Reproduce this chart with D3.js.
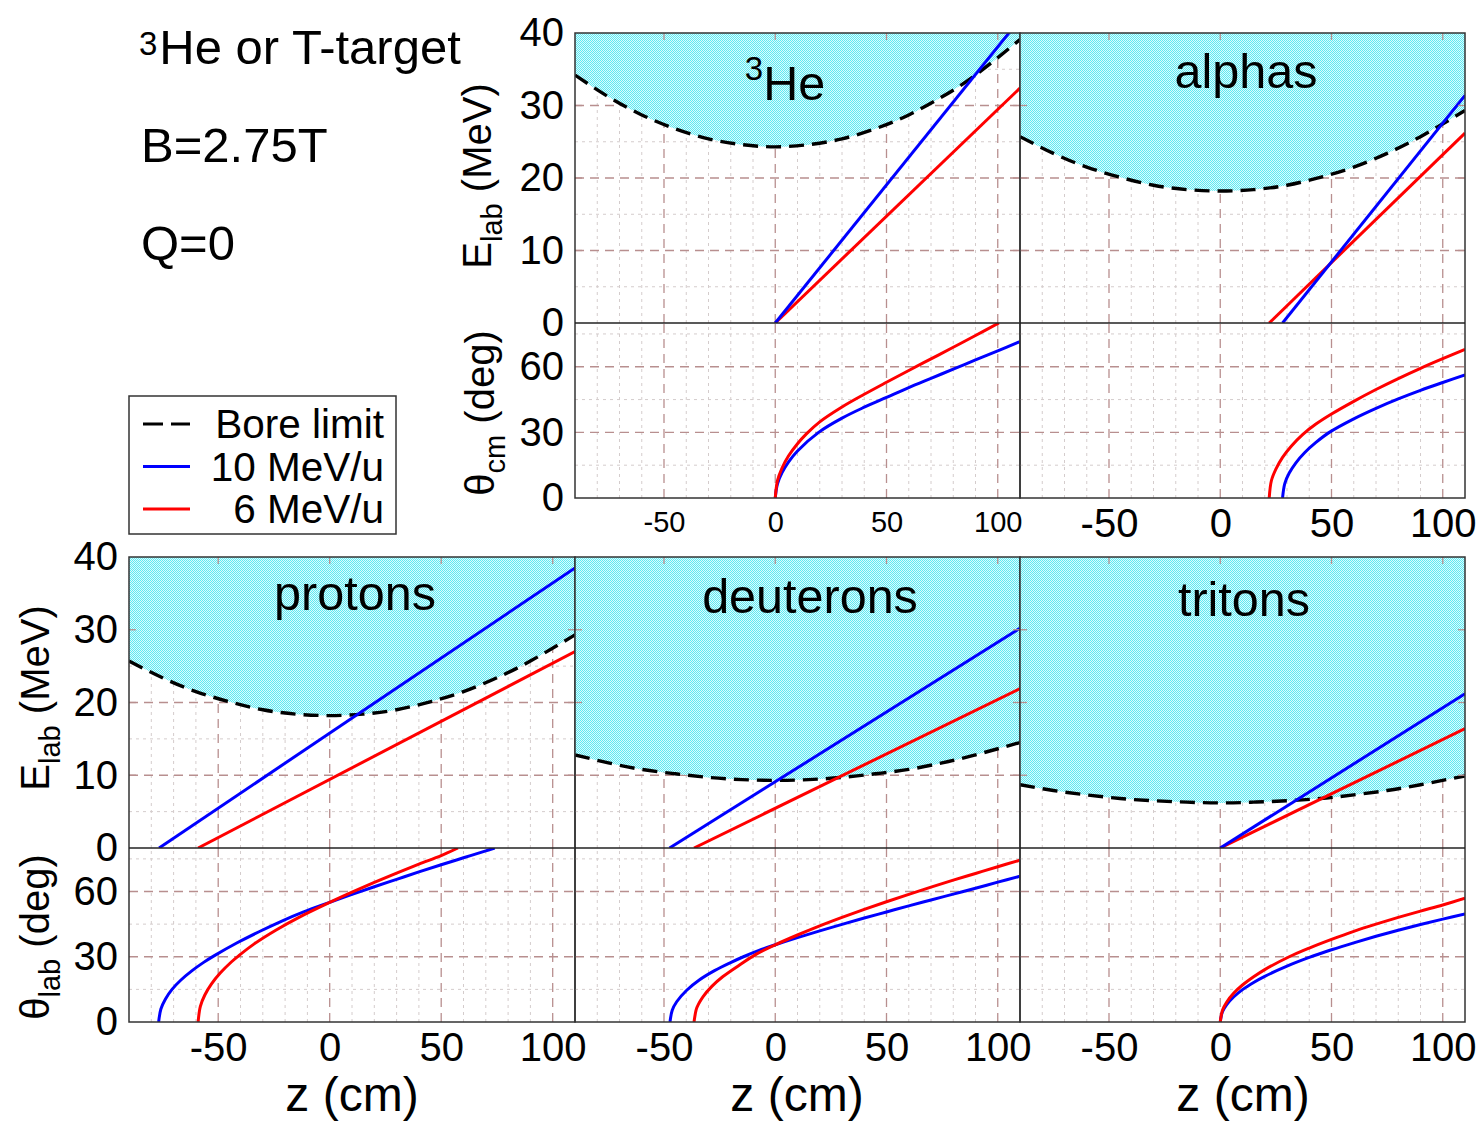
<!DOCTYPE html>
<html lang="en">
<head>
<meta charset="UTF-8">
<title>Bore limit kinematics</title>
<style>
    body { margin: 0; background: #fff; }
    text { font-family: 'Liberation Sans', Arial, sans-serif; fill: #000; }
</style>
</head>
<body>
<script src="https://d3js.org/d3.v7.min.js"></script>
<script>
    // tick labels
    let zTicks = [-50, 0, 50, 100];
    let eTicks = [0, 10, 20, 30, 40];
    let thTicks = [0, 30, 60];
    let zMinor = [-80, -70, -60, -40, -30, -20, -10, 10, 20, 30, 40, 60, 70, 80, 90];
    let eMajor = [10, 20, 30];
    let eMinor = [5, 15, 25, 35];
    let thMajor = [30, 60];
    let thMinor = [15, 45, 75];

    // bore limit, E (MeV) at zBore (cm)
    let zBore = [-90, -75, -60, -45, -30, -15, 0, 15, 30, 45, 60, 75, 90, 110];
    let boreHe3 = [34.2, 31.2, 28.7, 26.8, 25.4, 24.6, 24.3, 24.6, 25.4, 26.8, 28.7, 31.2, 34.2, 39.1];
    let boreAlpha = [25.7, 23.4, 21.5, 20.1, 19.0, 18.4, 18.2, 18.4, 19.0, 20.1, 21.5, 23.4, 25.7, 29.3];
    let boreP = [25.7, 23.4, 21.5, 20.1, 19.0, 18.4, 18.2, 18.4, 19.0, 20.1, 21.5, 23.4, 25.7, 29.3];
    let boreD = [12.8, 11.7, 10.8, 10.2, 9.7, 9.4, 9.3, 9.4, 9.7, 10.2, 10.8, 11.7, 12.8, 14.5];
    let boreT = [8.7, 7.9, 7.3, 6.8, 6.5, 6.3, 6.2, 6.3, 6.5, 6.8, 7.3, 7.9, 8.7, 9.9];

    // E_lab vs z, [z, E]
    let he3E10 = [[0, 0], [110, 41.9]];
    let he3E6 = [[0, 0], [110, 32.4]];
    let alphaE10 = [[28, 0], [110, 31.4]];
    let alphaE6 = [[22, 0], [110, 26.2]];
    let pE10 = [[-76.5, 0], [110, 38.5]];
    let pE6 = [[-59, 0], [110, 27.0]];
    let dE10 = [[-47.5, 0], [110, 30.2]];
    let dE6 = [[-36.5, 0], [110, 21.9]];
    let tE10 = [[0, 0], [110, 21.2]];
    let tE6 = [[0, 0], [110, 16.4]];

    // theta vs z, [z, deg]
    let he3Th10 = [[0, 0], [1, 6.5], [3, 11.5], [6, 16.5], [10, 21.5], [19.5, 30], [30, 36.5], [40, 41.5], [50, 46], [60, 50.5], [70, 54.7], [80, 58.9], [90, 63.1], [100, 67.3], [110, 71.5]];
    let he3Th6 = [[0, 0], [1, 7.9], [3, 13.6], [6, 19.3], [10, 24.8], [14, 29.3], [20, 34.8], [30, 41.6], [40, 47.4], [50, 52.9], [60, 58.3], [70, 63.6], [80, 68.9], [90, 74.3], [100.5, 80]];
    let alphaTh10 = [[28, 0], [29, 6.6], [31, 11.4], [34, 16.1], [38, 20.8], [43, 25.4], [49, 30], [60, 36.2], [70, 41], [80, 45.3], [90, 49.2], [100, 52.8], [110, 56.3]];
    let alphaTh6 = [[22, 0], [23, 8], [25, 13.2], [28, 18.6], [32, 23.8], [37, 29], [43, 33.8], [50, 38.4], [60, 44.2], [70, 49.6], [80, 54.6], [90, 59.3], [100, 63.7], [110, 67.9]];
    let pTh10 = [[-76.7, 0], [-75.7, 6], [-73.7, 10.5], [-70.7, 15], [-66.7, 19.3], [-61.7, 23.6], [-56.7, 27.3], [-51.7, 30.5], [-41.7, 36.3], [-31.7, 41.5], [-21.7, 46.3], [-11.7, 50.6], [0, 55], [10, 58.7], [20, 62.2], [30, 65.6], [40, 69], [50, 72.3], [60, 75.5], [70, 78.7], [74, 80]];
    let pTh6 = [[-59, 0], [-58, 7.2], [-56, 12.4], [-53, 17.5], [-49, 22.6], [-44, 27.7], [-40.5, 30.7], [-34, 35.8], [-24, 42.3], [-14, 48], [0, 55], [10, 59.7], [20, 64.2], [30, 68.5], [40, 72.6], [50, 76.5], [57.5, 80]];
    let dTh10 = [[-47.3, 0], [-46.3, 5.4], [-44.3, 9.3], [-39.8, 14.6], [-34.3, 19.2], [-27.3, 23.6], [-20.3, 27.2], [-14.3, 30], [-7.3, 32.9], [0, 35.5], [10, 38.8], [20, 41.9], [30, 44.9], [40, 47.8], [50, 50.6], [60, 53.4], [70, 56.1], [80, 58.8], [90, 61.5], [100, 64.3], [110, 67]];
    let dTh6 = [[-36.5, 0], [-35.5, 5.8], [-34.5, 8.2], [-32.5, 11.6], [-28.5, 16.4], [-23.5, 20.9], [-16.5, 25.9], [-8.5, 31.2], [0, 35.5], [10, 40], [20, 44.2], [30, 48.1], [40, 51.8], [50, 55.3], [60, 58.7], [70, 62], [80, 65.2], [90, 68.3], [100, 71.4], [110, 74.4]];
    let tTh10 = [[0, 0], [1, 4.7], [3, 8.1], [6, 11.5], [10, 14.9], [15, 18.2], [20, 21], [30, 25.7], [40, 29.7], [50, 33.2], [60, 36.4], [70, 39.4], [80, 42.2], [90, 44.8], [100, 47.3], [110, 49.7]];
    let tTh6 = [[0, 0], [1, 5.4], [3, 9.3], [6, 13.2], [10, 17], [15, 20.8], [20, 24.1], [31, 30], [40, 34], [50, 38], [60, 41.7], [70, 45], [80, 48.1], [90, 51], [100, 53.8], [110, 56.9]];

    let panels = [
        {name: 'He', col: 1, row: 0, bore: boreHe3, e10: he3E10, e6: he3E6, t10: he3Th10, t6: he3Th6, yAxis: true, smallX: true},
        {name: 'alphas', col: 2, row: 0, bore: boreAlpha, e10: alphaE10, e6: alphaE6, t10: alphaTh10, t6: alphaTh6},
        {name: 'protons', col: 0, row: 1, bore: boreP, e10: pE10, e6: pE6, t10: pTh10, t6: pTh6, yAxis: true},
        {name: 'deuterons', col: 1, row: 1, bore: boreD, e10: dE10, e6: dE6, t10: dTh10, t6: dTh6},
        {name: 'tritons', col: 2, row: 1, bore: boreT, e10: tE10, e6: tE6, t10: tTh10, t6: tTh6}
    ];

    let cols = [129, 575, 1020, 1465];
    let rows = [{top: 33, mid: 323, bot: 498}, {top: 557, mid: 848, bot: 1022}];
    let blue = '#0000ff', red = '#ff0000';
    let majorColor = '#b88f8f', minorColor = '#d4cccc';
    let font = "'Liberation Sans', Arial, sans-serif";

    let svg = d3.select('body').append('svg')
        .attr('width', 1481)
        .attr('height', 1122);

    let defs = svg.append('defs');
    let pat = defs.append('pattern').attr('id', 'stipple')
        .attr('width', 2).attr('height', 2).attr('patternUnits', 'userSpaceOnUse');
    pat.append('rect').attr('width', 2).attr('height', 2).attr('fill', '#dcfbfd');
    pat.append('rect').attr('width', 1).attr('height', 1).attr('fill', '#5ee9f2');
    pat.append('rect').attr('x', 1).attr('y', 1).attr('width', 1).attr('height', 1).attr('fill', '#5ee9f2');

    let grid = (g, x, y, yMinor, yMajor) => {
        let [xa, xb] = x.range();
        let [ya, yb] = y.range();
        g.selectAll(null).data(zMinor).enter().append('line')
            .attr('x1', d => x(d)).attr('x2', d => x(d)).attr('y1', ya).attr('y2', yb)
            .attr('stroke', minorColor).attr('stroke-width', 1).attr('stroke-dasharray', '3,4');
        g.selectAll(null).data(yMinor).enter().append('line')
            .attr('x1', xa).attr('x2', xb).attr('y1', d => y(d)).attr('y2', d => y(d))
            .attr('stroke', minorColor).attr('stroke-width', 1).attr('stroke-dasharray', '3,4');
        g.selectAll(null).data(zTicks).enter().append('line')
            .attr('x1', d => x(d)).attr('x2', d => x(d)).attr('y1', ya).attr('y2', yb)
            .attr('stroke', majorColor).attr('stroke-width', 1.3).attr('stroke-dasharray', '9,6');
        g.selectAll(null).data(yMajor).enter().append('line')
            .attr('x1', xa).attr('x2', xb).attr('y1', d => y(d)).attr('y2', d => y(d))
            .attr('stroke', majorColor).attr('stroke-width', 1.3).attr('stroke-dasharray', '9,6');
    };

    let borderTicks = (g, x, y, yMajor) => {
        let [xa, xb] = x.range();
        let [ya, yb] = y.range();
        g.selectAll(null).data(zTicks).enter().append('line')
            .attr('x1', d => x(d)).attr('x2', d => x(d)).attr('y1', yb).attr('y2', yb + 7)
            .attr('stroke', majorColor).attr('stroke-width', 1.3);
        g.selectAll(null).data(yMajor).enter().append('line')
            .attr('x1', xa).attr('x2', xa + 7).attr('y1', d => y(d)).attr('y2', d => y(d))
            .attr('stroke', majorColor).attr('stroke-width', 1.3);
        g.selectAll(null).data(yMajor).enter().append('line')
            .attr('x1', xb).attr('x2', xb - 7).attr('y1', d => y(d)).attr('y2', d => y(d))
            .attr('stroke', majorColor).attr('stroke-width', 1.3);
    };

    panels.forEach((p, i) => {
        let x0 = cols[p.col], x1 = cols[p.col + 1];
        let r = rows[p.row];
        let x = d3.scaleLinear().domain([-90, 110]).range([x0, x1]);
        let yE = d3.scaleLinear().domain([0, 40]).range([r.mid, r.top]);
        let yT = d3.scaleLinear().domain([0, 80]).range([r.bot, r.mid]);

        defs.append('clipPath').attr('id', 'clipE' + i).append('rect')
            .attr('x', x0).attr('y', r.top).attr('width', x1 - x0).attr('height', r.mid - r.top);
        defs.append('clipPath').attr('id', 'clipT' + i).append('rect')
            .attr('x', x0).attr('y', r.mid).attr('width', x1 - x0).attr('height', r.bot - r.mid);

        let g = svg.append('g');
        grid(g, x, yE, eMinor, eMajor);
        grid(g, x, yT, thMinor, thMajor);

        // energy panel
        let ge = g.append('g').attr('clip-path', 'url(#clipE' + i + ')');
        let bore = zBore.map((z, k) => [z, p.bore[k]]);
        ge.append('path').datum(bore)
            .attr('fill', 'url(#stipple)')
            .attr('d', d3.area().x(d => x(d[0])).y0(yE(40)).y1(d => yE(d[1])).curve(d3.curveNatural));
        borderTicks(g, x, yE, eMajor);
        ge.append('path').datum(bore)
            .attr('fill', 'none').attr('stroke', '#000').attr('stroke-width', 3.4)
            .attr('stroke-dasharray', '15,8')
            .attr('d', d3.line().x(d => x(d[0])).y(d => yE(d[1])).curve(d3.curveNatural));
        let lineE = d3.line().x(d => x(d[0])).y(d => yE(d[1]));
        ge.append('path').datum(p.e6).attr('fill', 'none').attr('stroke', red).attr('stroke-width', 3).attr('d', lineE);
        ge.append('path').datum(p.e10).attr('fill', 'none').attr('stroke', blue).attr('stroke-width', 3).attr('d', lineE);

        // angle panel
        let gt = g.append('g').attr('clip-path', 'url(#clipT' + i + ')');
        let lineT = d3.line().x(d => x(d[0])).y(d => yT(d[1])).curve(d3.curveCatmullRom.alpha(0.5));
        gt.append('path').datum(p.t10).attr('fill', 'none').attr('stroke', blue).attr('stroke-width', 3).attr('d', lineT);
        gt.append('path').datum(p.t6).attr('fill', 'none').attr('stroke', red).attr('stroke-width', 3).attr('d', lineT);

        // frames
        g.append('rect').attr('x', x0).attr('y', r.top).attr('width', x1 - x0).attr('height', r.bot - r.top)
            .attr('fill', 'none').attr('stroke', '#333').attr('stroke-width', 1.5);
        g.append('line').attr('x1', x0).attr('x2', x1).attr('y1', r.mid).attr('y2', r.mid)
            .attr('stroke', '#222').attr('stroke-width', 1.5);

        // axes
        let xAxis = g.append('g')
            .attr('transform', 'translate(0,' + r.bot + ')')
            .call(d3.axisBottom(x).tickValues(zTicks).tickFormat(d => String(d))
                .tickSize(0).tickPadding(p.smallX ? 13 : 11));
        xAxis.select('.domain').remove();
        xAxis.selectAll('text').style('font-size', p.smallX ? '29px' : '40px')
            .style('font-family', font).attr('fill', '#000');

        if (p.yAxis) {
            [[yE, eTicks], [yT, thTicks]].forEach(([sc, tv]) => {
                let ya = g.append('g')
                    .attr('transform', 'translate(' + x0 + ',0)')
                    .call(d3.axisLeft(sc).tickValues(tv).tickFormat(d => String(d)).tickSize(0).tickPadding(11));
                ya.select('.domain').remove();
                ya.selectAll('text').style('font-size', '40px')
                    .style('font-family', font).attr('fill', '#000');
            });
        }
    });

    // panel labels
    let big = 48.5;
    let he = svg.append('text').attr('x', 785).attr('y', 100).attr('text-anchor', 'middle').style('font-size', big + 'px');
    he.append('tspan').text('3').style('font-size', '33px').attr('dy', -20);
    he.append('tspan').text('He').attr('dy', 20);
    [['alphas', 1246, 88], ['protons', 355, 610], ['deuterons', 810, 613], ['tritons', 1244, 616]].forEach(([t, px, py]) => {
        svg.append('text').attr('x', px).attr('y', py).attr('text-anchor', 'middle')
            .style('font-size', big + 'px').text(t);
    });

    // header text
    let hd = svg.append('text').attr('x', 139).attr('y', 64).style('font-size', '49px');
    hd.append('tspan').text('3').style('font-size', '33px').attr('dy', -9);
    hd.append('tspan').text('He or T-target').attr('dy', 9).attr('dx', 2);
    svg.append('text').attr('x', 141).attr('y', 162).style('font-size', '49px').text('B=2.75T');
    svg.append('text').attr('x', 141).attr('y', 260).style('font-size', '49px').text('Q=0');

    // axis titles
    let rotTitle = (cx, cy, main, sub, rest) => {
        let t = svg.append('text')
            .attr('transform', 'translate(' + cx + ',' + cy + ') rotate(-90)')
            .attr('text-anchor', 'middle').style('font-size', '40px');
        t.append('tspan').text(main);
        t.append('tspan').text(sub).style('font-size', '29px').attr('dy', 11);
        t.append('tspan').text(rest).attr('dy', -11);
    };
    rotTitle(491, 176, 'E', 'lab', '\u00a0(MeV)');
    rotTitle(494, 413, '\u03b8', 'cm', '\u00a0(deg)');
    rotTitle(49, 698, 'E', 'lab', '\u00a0(MeV)');
    rotTitle(49, 937, '\u03b8', 'lab', '\u00a0(deg)');

    [352, 797, 1243].forEach(cx => {
        svg.append('text').attr('x', cx).attr('y', 1111).attr('text-anchor', 'middle')
            .style('font-size', '48px').text('z (cm)');
    });

    // legend
    let lg = svg.append('g');
    lg.append('rect').attr('x', 129).attr('y', 396).attr('width', 267).attr('height', 138)
        .attr('fill', '#fff').attr('stroke', '#333').attr('stroke-width', 1.5);
    let legendItems = [['Bore limit', '#000', '20,8'], ['10 MeV/u', blue, null], ['6 MeV/u', red, null]];
    legendItems.forEach(([label, color, dash], k) => {
        let ly = 424 + k * 42.5;
        lg.append('line').attr('x1', 143).attr('x2', 190).attr('y1', ly).attr('y2', ly)
            .attr('stroke', color).attr('stroke-width', 3).attr('stroke-dasharray', dash);
        lg.append('text').attr('x', 384).attr('y', ly + 14).attr('text-anchor', 'end')
            .style('font-size', '40.5px').text(label);
    });
</script>
</body>
</html>
